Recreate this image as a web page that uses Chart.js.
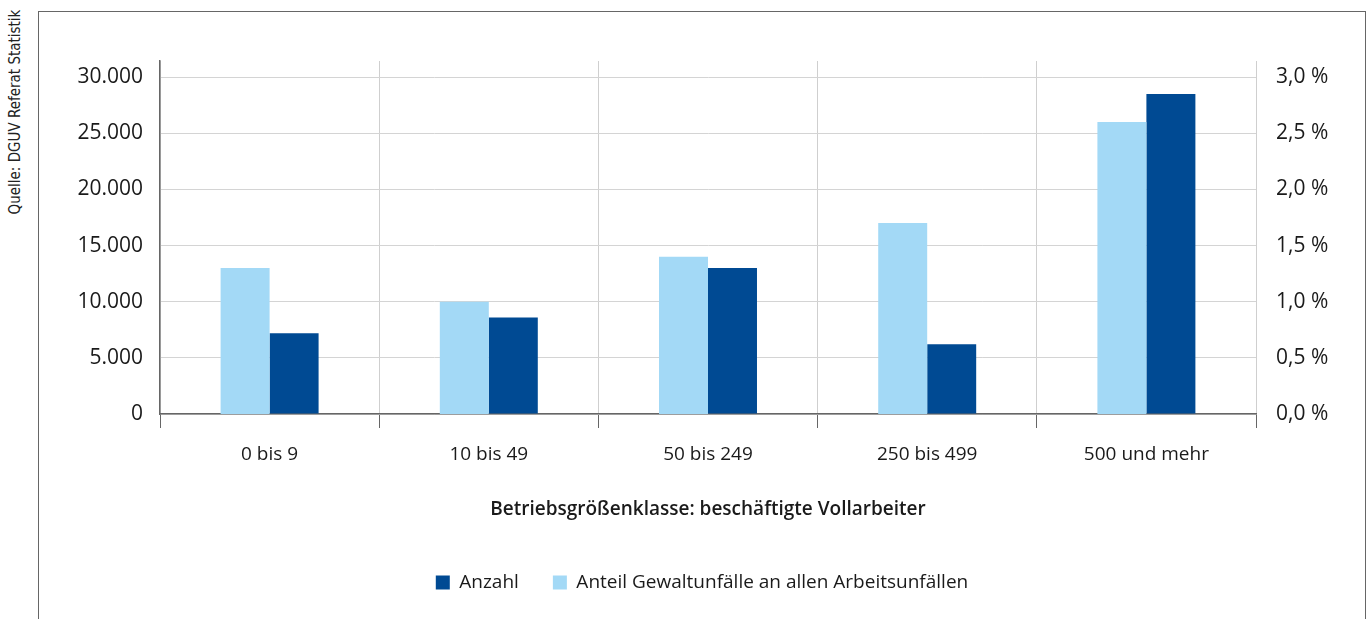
<!DOCTYPE html>
<html lang="de">
<head>
<meta charset="utf-8">
<title>Gewaltunfälle nach Betriebsgröße</title>
<script src="https://cdn.jsdelivr.net/npm/chart.js@4/dist/chart.umd.min.js"></script>
<style>
  html, body { margin: 0; padding: 0; background: #fff; }
  body { width: 1370px; height: 619px; position: relative; overflow: hidden; font-family: "Open Sans", sans-serif; }
  #frame { position: absolute; left: 38px; top: 11px; width: 1326px; height: 700px;
           border: 1px solid #666; border-bottom: none; }
  #source { position: absolute; left: 15px; top: 112px; transform: translate(-50%, -50%) rotate(-90deg);
            white-space: nowrap; font-family: "Liberation Sans Narrow", "DejaVu Sans Condensed", sans-serif;
            font-size: 15px; color: #222; }
  #wrap { position: absolute; left: 38px; top: 0; width: 1328px; height: 619px; }
</style>
</head>
<body>
<div id="frame"></div>
<div id="source">Quelle: DGUV Referat Statistik</div>
<div id="wrap"><canvas id="chart"></canvas></div>
<script>
// Data
const categories = ['0 bis 9', '10 bis 49', '50 bis 249', '250 bis 499', '500 und mehr'];
const anzahl = [7200, 8600, 13000, 6200, 28500];
const anteil = [1.3, 1.0, 1.4, 1.7, 2.6];

// tick values for both axes
const anzahlTicks = [0, 5000, 10000, 15000, 20000, 25000, 30000];
const anteilTicks = [0, 0.5, 1.0, 1.5, 2.0, 2.5, 3.0];

const darkBlue = '#004a93';
const lightBlue = '#a3d9f6';
const textColor = '#1a1a1a';
const fontFamily = '"Open Sans", sans-serif';

const fmtInt = new Intl.NumberFormat('de-DE', { maximumFractionDigits: 0 });
const fmtPct = new Intl.NumberFormat('de-DE', { minimumFractionDigits: 1, maximumFractionDigits: 1 });

// axes go a bit above the last tick, so the vertical lines run past 30.000
const setTicks = values => scale => { scale.ticks = values.map(v => ({ value: v })); };

const ctx = document.getElementById('chart').getContext('2d');
new Chart(ctx, {
    type: 'bar',
    data: {
        labels: categories,
        datasets: [{
            label: 'Anteil Gewaltunfälle an allen Arbeitsunfällen',
            data: anteil,
            backgroundColor: lightBlue,
            yAxisID: 'y1'
        }, {
            label: 'Anzahl',
            data: anzahl,
            backgroundColor: darkBlue,
            yAxisID: 'y'
        }]
    },
    options: {
        responsive: true,
        maintainAspectRatio: false,
        animation: false,
        categoryPercentage: 0.447,
        barPercentage: 1.0,
        layout: { padding: { top: 61, bottom: 17, left: 0, right: 0 } },
        plugins: {
            tooltip: { enabled: false },
            legend: {
                position: 'bottom',
                labels: {
                    color: textColor,
                    font: { family: fontFamily, size: 19 },
                    boxWidth: 14,
                    boxHeight: 14,
                    padding: 34,
                    sort: (a, b) => b.datasetIndex - a.datasetIndex
                }
            }
        },
        scales: {
            x: {
                offset: true,
                afterFit: s => { s.height = 125; },
                grid: {
                    offset: true,
                    color: c => c.index === categories.length ? 'rgba(0,0,0,0)' : '#cfcfcf',
                    tickColor: c => c.index === categories.length ? 'rgba(0,0,0,0)' : '#666',
                    tickLength: 14,
                    lineWidth: 1
                },
                border: { color: '#666', width: 1.5 },
                ticks: { color: textColor, font: { family: fontFamily, size: 19 }, padding: 15 },
                title: {
                    display: true,
                    text: 'Betriebsgrößenklasse: beschäftigte Vollarbeiter',
                    color: textColor,
                    font: { family: fontFamily, size: 19, weight: '600' },
                    padding: { top: 4, bottom: 18 }
                }
            },
            y: {
                position: 'left',
                min: 0,
                max: 31430,
                afterFit: s => { s.width = 122; },
                afterBuildTicks: setTicks(anzahlTicks),
                ticks: {
                    color: textColor,
                    font: { family: fontFamily, size: 21 },
                    padding: 17,
                    callback: v => fmtInt.format(v)
                },
                grid: { color: '#d4d4d4', drawTicks: false },
                border: { color: '#666', width: 1.5 }
            },
            y1: {
                position: 'right',
                min: 0,
                max: 3.143,
                afterFit: s => { s.width = 110; },
                afterBuildTicks: setTicks(anteilTicks),
                ticks: {
                    color: textColor,
                    font: { family: fontFamily, size: 21 },
                    padding: 20,
                    callback: v => fmtPct.format(v) + ' %'
                },
                grid: { display: false, drawTicks: false },
                border: { display: false }
            }
        }
    }
});
</script>
</body>
</html>
